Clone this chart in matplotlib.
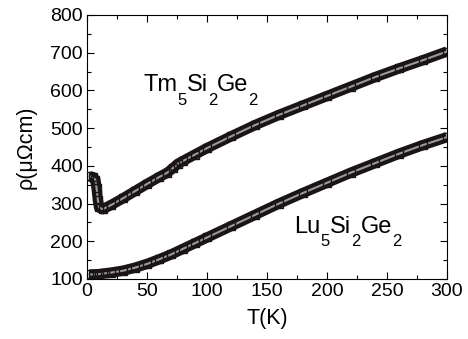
import matplotlib
matplotlib.use("Agg")
import matplotlib.pyplot as plt
from matplotlib.ticker import MultipleLocator
from matplotlib.transforms import offset_copy

plt.rcParams['font.family'] = ['Liberation Sans', 'DejaVu Sans']

# Tm5Si2Ge2 resistivity
T_tm = [2, 5, 7, 8, 9, 10, 13, 20, 30, 40, 50, 60, 67, 72, 76, 80, 90, 100,
        120, 140, 160, 180, 200, 220, 240, 260, 280, 300]
rho_tm = [372, 370, 362, 340, 310, 290, 285, 296, 314, 333, 352, 370, 382, 395,
          406, 413, 430, 447, 478, 508, 535, 560, 585, 610, 635, 658, 680, 703]

# Lu5Si2Ge2 resistivity
T_lu = [2, 5, 10, 15, 20, 30, 40, 50, 60, 70, 80, 90, 100, 120, 140, 160,
        180, 200, 220, 240, 260, 280, 300]
rho_lu = [112, 112, 113, 115, 117, 122, 130, 140, 152, 165, 180, 195, 210,
          240, 270, 300, 328, 355, 382, 407, 432, 455, 476]

fig = plt.figure(figsize=(4.68, 3.39), dpi=100)
ax = fig.add_axes([0.186, 0.177, 0.769, 0.779])

for T, rho in [(T_tm, rho_tm), (T_lu, rho_lu)]:
    ax.plot(T, rho, color='#1a1414', lw=7.5, solid_capstyle='butt', zorder=2)
    ax.plot(T, rho, color='#9a9a9a', lw=1.5, zorder=3)
    ax.plot(T, rho, ls='none', marker='s', ms=6, mfc='none', mec='#1a1414',
            mew=1.0, zorder=4)


def formula(x, y, parts, size=17, subsize=12, drop=9.4):
    # write a chemical formula piece by piece, with large lowered subscripts
    renderer = fig.canvas.get_renderer()
    off = 0.0
    for txt, sub in parts:
        tr = offset_copy(ax.transData, fig=fig, x=off, y=-drop if sub else 0,
                         units='points')
        t = ax.text(x, y, txt, transform=tr, va='baseline',
                    fontsize=subsize if sub else size)
        off += t.get_window_extent(renderer).width * 72 / fig.dpi


ax.set_xlim(0, 300)
ax.set_ylim(100, 800)

formula(47, 597, [('Tm', 0), ('5', 1), ('Si', 0), ('2', 1), ('Ge', 0), ('2', 1)])
formula(173, 221, [('Lu', 0), ('5', 1), ('Si', 0), ('2', 1), ('Ge', 0), ('2', 1)])

ax.xaxis.set_major_locator(MultipleLocator(50))
ax.xaxis.set_minor_locator(MultipleLocator(25))
ax.yaxis.set_major_locator(MultipleLocator(100))
ax.yaxis.set_minor_locator(MultipleLocator(50))
ax.tick_params(which='both', direction='in', top=True, right=True,
               labelsize=14, width=0.8)
ax.tick_params(which='major', length=5, pad=3)
ax.tick_params(which='minor', length=3)
for s in ax.spines.values():
    s.set_linewidth(0.8)

ax.set_xlabel('T(K)', fontsize=15.5, labelpad=6)
ax.set_ylabel('ρ(μΩcm)', fontsize=15.5, labelpad=10)

fig.savefig('out.png', dpi=100)
